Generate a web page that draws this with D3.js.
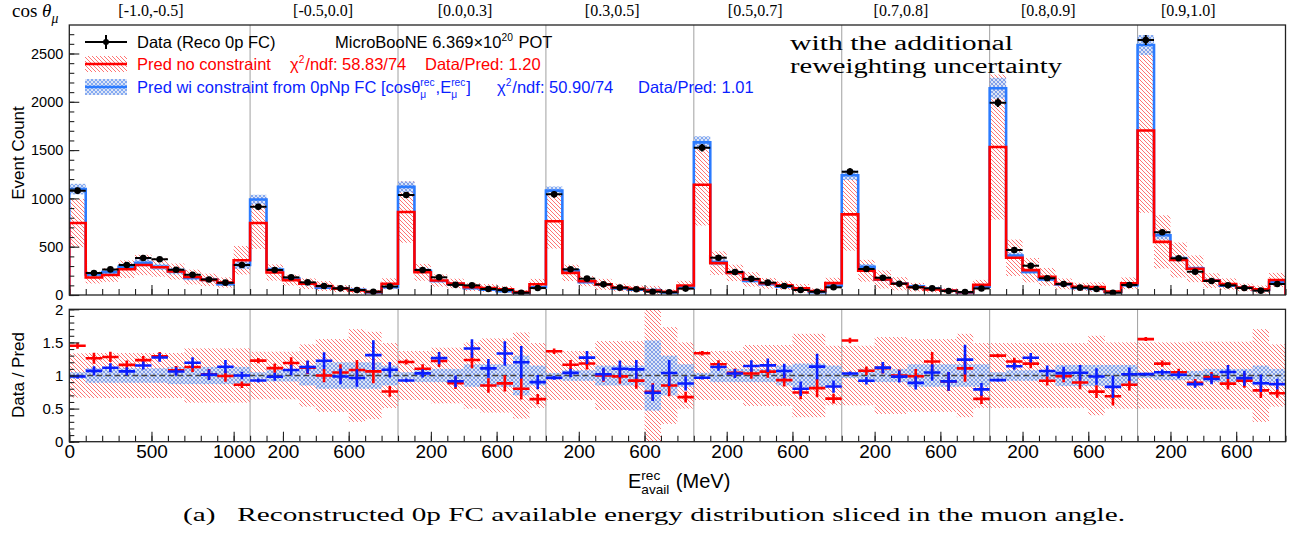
<!DOCTYPE html>
<html>
<head>
<meta charset="utf-8">
<script src="https://cdn.jsdelivr.net/npm/d3@7"></script>
<style>
  body { margin: 0; background: #fff; }
  svg { display: block; }
  text { white-space: pre; }
</style>
</head>
<body>
<svg id="chart" width="1298" height="535"></svg>
<script>
// ---- cos(theta_mu) slices ----
const sliceLabels = ["[-1.0,-0.5]", "[-0.5,0.0]", "[0.0,0.3]", "[0.3,0.5]",
                     "[0.5,0.7]", "[0.7,0.8]", "[0.8,0.9]", "[0.9,1.0]"];
const sliceBins = [11, 9, 9, 9, 9, 9, 9, 9];
const binWidthMeV = 100;
const sliceTickLabels = [[0, 500, 1000], [200, 600], [200, 600], [200, 600],
                         [200, 600], [200, 600], [200, 600], [200, 600]];
const countTicks = [0, 500, 1000, 1500, 2000, 2500];
const ratioTicks = [0, 0.5, 1, 1.5, 2];

// ---- per-bin contents (74 bins, slice by slice) ----
const dataCounts = [
  1080, 228, 265, 310, 383, 370, 262, 210, 160, 128, 310,
  914, 259, 183, 131, 93, 69, 52, 34, 88,
  1035, 259, 183, 105, 100, 62, 52, 24, 72,
  1042, 266, 169, 110, 76, 59, 34, 28, 66,
  1525, 386, 238, 167, 128, 93, 52, 34, 80,
  1277, 269, 179, 117, 80, 69, 41, 31, 68,
  1991, 466, 303, 173, 114, 76, 62, 24, 104,
  2640, 649, 380, 241, 145, 100, 72, 45, 114];

const dataStatErr = [
  33, 15, 16, 18, 20, 19, 16, 14.5, 12.6, 11.3, 17.6,
  30, 16, 13.5, 11.4, 9.6, 8.3, 7.2, 5.8, 9.4,
  32, 16, 13.5, 10.2, 10, 7.9, 7.2, 4.9, 8.5,
  32, 16.3, 13, 10.5, 8.7, 7.7, 5.8, 5.3, 8.1,
  39, 19.6, 15.4, 12.9, 11.3, 9.6, 7.2, 5.8, 8.9,
  35.7, 16.4, 13.4, 10.8, 8.9, 8.3, 6.4, 5.6, 8.2,
  44.6, 21.6, 17.4, 13.2, 10.7, 8.7, 7.9, 4.9, 10.2,
  51.4, 25.5, 19.5, 15.5, 12, 10, 8.5, 6.7, 10.7];

const predNoConstraint = [
  745, 181, 207, 267, 311, 287, 243, 186, 157, 129, 360,
  746, 233, 154, 117, 93, 66, 48, 32, 116,
  859, 235, 150, 119, 81, 73, 59, 30, 112,
  763, 229, 143, 110, 77, 64, 45, 33, 98,
  1142, 330, 229, 162, 121, 100, 70, 42, 123,
  835, 251, 161, 117, 81, 57, 45, 28, 105,
  1532, 385, 257, 188, 115, 85, 82, 35, 121,
  1703, 550, 362, 271, 149, 114, 78, 58, 156];

const predConstraint = [
  1096, 213, 237, 292, 333, 291, 247, 176, 158, 113, 310,
  988, 264, 169, 116, 76, 70, 54, 26, 81,
  1119, 251, 145, 115, 71, 56, 39, 20, 80,
  1080, 256, 133, 108, 69, 54, 46, 27, 75,
  1580, 342, 231, 146, 111, 87, 65, 30, 96,
  1240, 292, 160, 119, 90, 66, 45, 25, 86,
  2141, 409, 239, 162, 110, 73, 63, 29, 102,
  2588, 618, 376, 277, 153, 95, 75, 51, 131];

// relative (fractional) uncertainty of each prediction
const relErrNoConstraint = [
  0.335, 0.34, 0.34, 0.34, 0.34, 0.34, 0.34, 0.41, 0.41, 0.41, 0.41,
  0.36, 0.36, 0.36, 0.47, 0.55, 0.55, 0.70, 0.66, 0.49,
  0.37, 0.37, 0.42, 0.42, 0.50, 0.56, 0.56, 0.65, 0.49,
  0.37, 0.37, 0.37, 0.52, 0.52, 0.52, 1.10, 0.73, 0.50,
  0.37, 0.37, 0.37, 0.46, 0.46, 0.46, 0.63, 0.63, 0.45,
  0.45, 0.45, 0.58, 0.58, 0.55, 0.55, 0.55, 0.63, 0.49,
  0.49, 0.49, 0.49, 0.49, 0.49, 0.49, 0.60, 0.50, 0.50,
  0.50, 0.50, 0.50, 0.51, 0.51, 0.51, 0.51, 0.70, 0.47];

const relErrConstraint = [
  0.05, 0.11, 0.11, 0.11, 0.11, 0.11, 0.13, 0.13, 0.13, 0.13, 0.13,
  0.05, 0.09, 0.09, 0.15, 0.20, 0.20, 0.20, 0.20, 0.15,
  0.05, 0.10, 0.10, 0.10, 0.17, 0.17, 0.17, 0.30, 0.15,
  0.04, 0.08, 0.08, 0.15, 0.15, 0.15, 0.53, 0.30, 0.17,
  0.04, 0.10, 0.10, 0.10, 0.10, 0.15, 0.18, 0.18, 0.15,
  0.04, 0.10, 0.10, 0.10, 0.17, 0.17, 0.17, 0.17, 0.17,
  0.05, 0.08, 0.08, 0.08, 0.16, 0.16, 0.16, 0.16, 0.16,
  0.04, 0.07, 0.07, 0.07, 0.10, 0.10, 0.10, 0.15, 0.10];

// ---- layout ----
const W = 1298, H = 535;
const frame = { left: 69.3, right: 1285.5 };
const topPanel = { top: 25, bottom: 295, yMax: 2795 };
const ratioPanel = { top: 309.3, bottom: 441.7 };
// where the slice titles sit along the concatenated energy axis (MeV)
const sliceLabelAnchor = [497, 1544, 2408, 3303, 4173, 5060, 5957, 6809];

const SANS = "'Liberation Sans', Arial, Helvetica, sans-serif";
const SERIF = "'Liberation Serif', 'Times New Roman', serif";
const RED = "#ff0000";
const BLUE_LINE = "#2b7bff";
const BLUE = "#0a1eff";
const NBSP = "\u00a0";

// ---- bin geometry on the concatenated axis ----
const sliceStart = [];
const bins = [];
{
  let off = 0;
  sliceBins.forEach((n, s) => {
    sliceStart.push(off);
    for (let k = 0; k < n; k++) {
      bins.push({ slice: s, lo: off + k * binWidthMeV, hi: off + (k + 1) * binWidthMeV });
    }
    off += n * binWidthMeV;
  });
  sliceStart.push(off);
}
const totalMeV = sliceStart[sliceStart.length - 1];
bins.forEach((b, i) => {
  b.data = dataCounts[i];
  b.err = dataStatErr[i];
  b.p0 = predNoConstraint[i];
  b.p1 = predConstraint[i];
  b.e0 = relErrNoConstraint[i];
  b.e1 = relErrConstraint[i];
});

const x = d3.scaleLinear().domain([0, totalMeV]).range([frame.left, frame.right]);
const yTop = d3.scaleLinear().domain([0, topPanel.yMax]).range([topPanel.bottom, topPanel.top]);
const yRat = d3.scaleLinear().domain([0, 2]).range([ratioPanel.bottom, ratioPanel.top]);

const svg = d3.select("#chart");
svg.append("rect").attr("width", W).attr("height", H).attr("fill", "#fff");

// ---- hatch patterns ----
const defs = svg.append("defs");
const redHatch = defs.append("pattern").attr("id", "redHatch")
  .attr("patternUnits", "userSpaceOnUse").attr("width", 4).attr("height", 4);
redHatch.append("path").attr("d", "M-1,-1 L5,5 M-1,3 L1,5 M3,-1 L5,1")
  .attr("stroke", "#ff7474").attr("stroke-width", 1);
const blueHatch = defs.append("pattern").attr("id", "blueHatch")
  .attr("patternUnits", "userSpaceOnUse").attr("width", 4).attr("height", 4);
blueHatch.append("rect").attr("width", 4).attr("height", 4).attr("fill", "rgba(140,170,230,0.30)");
blueHatch.append("path").attr("d", "M-1,-1 L5,5 M-1,3 L1,5 M3,-1 L5,1 M-1,5 L5,-1 M-1,1 L1,-1 M3,5 L5,3")
  .attr("stroke", "#6f9cf0").attr("stroke-width", 0.8);

defs.append("clipPath").attr("id", "clipTop").append("rect")
  .attr("x", frame.left).attr("y", topPanel.top)
  .attr("width", frame.right - frame.left).attr("height", topPanel.bottom - topPanel.top);
defs.append("clipPath").attr("id", "clipRatio").append("rect")
  .attr("x", frame.left).attr("y", ratioPanel.top)
  .attr("width", frame.right - frame.left).attr("height", ratioPanel.bottom - ratioPanel.top);

// ---- slice separators ----
function separators(panel) {
  svg.append("g").selectAll("line").data(sliceStart.slice(1, -1)).join("line")
    .attr("x1", d => x(d)).attr("x2", d => x(d))
    .attr("y1", panel.top).attr("y2", panel.bottom)
    .attr("stroke", "#a0a0a0").attr("stroke-width", 1);
}
separators(topPanel);
separators(ratioPanel);

// ================= upper panel =================
const gTop = svg.append("g").attr("clip-path", "url(#clipTop)");
const clampTop = v => Math.max(0, Math.min(topPanel.yMax, v));

// uncertainty bands
gTop.append("g").selectAll("rect").data(bins).join("rect")
  .attr("x", d => x(d.lo)).attr("width", d => x(d.hi) - x(d.lo))
  .attr("y", d => yTop(clampTop(d.p0 * (1 + d.e0))))
  .attr("height", d => yTop(clampTop(d.p0 * (1 - d.e0))) - yTop(clampTop(d.p0 * (1 + d.e0))))
  .attr("fill", "url(#redHatch)");
gTop.append("g").selectAll("rect").data(bins).join("rect")
  .attr("x", d => x(d.lo)).attr("width", d => x(d.hi) - x(d.lo))
  .attr("y", d => yTop(clampTop(d.p1 * (1 + d.e1))))
  .attr("height", d => yTop(clampTop(d.p1 * (1 - d.e1))) - yTop(clampTop(d.p1 * (1 + d.e1))))
  .attr("fill", "url(#blueHatch)");

// step histograms
function stepPath(key) {
  let p = `M${x(0)},${yTop(0)}`;
  bins.forEach(b => { p += `V${yTop(b[key])}H${x(b.hi)}`; });
  p += `V${yTop(0)}`;
  return p;
}
gTop.append("path").attr("d", stepPath("p1")).attr("fill", "none")
  .attr("stroke", BLUE_LINE).attr("stroke-width", 2.6);
gTop.append("path").attr("d", stepPath("p0")).attr("fill", "none")
  .attr("stroke", RED).attr("stroke-width", 2.6);

// data points
const gData = gTop.append("g").attr("stroke", "#000").attr("stroke-width", 2);
gData.selectAll("line.h").data(bins).join("line").attr("class", "h")
  .attr("x1", d => x(d.lo)).attr("x2", d => x(d.hi))
  .attr("y1", d => yTop(d.data)).attr("y2", d => yTop(d.data));
gData.selectAll("line.v").data(bins).join("line").attr("class", "v")
  .attr("x1", d => x((d.lo + d.hi) / 2)).attr("x2", d => x((d.lo + d.hi) / 2))
  .attr("y1", d => yTop(d.data - d.err)).attr("y2", d => yTop(d.data + d.err));
gData.selectAll("circle").data(bins).join("circle")
  .attr("cx", d => x((d.lo + d.hi) / 2)).attr("cy", d => yTop(d.data))
  .attr("r", 3.3).attr("fill", "#000").attr("stroke", "none");

// ================= ratio panel =================
const gRat = svg.append("g").attr("clip-path", "url(#clipRatio)");
gRat.append("g").selectAll("rect").data(bins).join("rect")
  .attr("x", d => x(d.lo)).attr("width", d => x(d.hi) - x(d.lo))
  .attr("y", d => yRat(1 + d.e0)).attr("height", d => yRat(1 - d.e0) - yRat(1 + d.e0))
  .attr("fill", "url(#redHatch)");
gRat.append("g").selectAll("rect").data(bins).join("rect")
  .attr("x", d => x(d.lo)).attr("width", d => x(d.hi) - x(d.lo))
  .attr("y", d => yRat(1 + d.e1)).attr("height", d => yRat(1 - d.e1) - yRat(1 + d.e1))
  .attr("fill", "url(#blueHatch)");
gRat.append("line")
  .attr("x1", frame.left).attr("x2", frame.right).attr("y1", yRat(1)).attr("y2", yRat(1))
  .attr("stroke", "#444").attr("stroke-width", 1.4).attr("stroke-dasharray", "6,3");

function ratioCrosses(predKey, color) {
  const g = gRat.append("g").attr("stroke", color).attr("stroke-width", 2.6);
  const r = d => d.data / d[predKey];
  const re = d => d.err / d[predKey];
  g.selectAll("line.h").data(bins).join("line").attr("class", "h")
    .attr("x1", d => x(d.lo)).attr("x2", d => x(d.hi))
    .attr("y1", d => yRat(r(d))).attr("y2", d => yRat(r(d)));
  g.selectAll("line.v").data(bins).join("line").attr("class", "v")
    .attr("x1", d => x((d.lo + d.hi) / 2)).attr("x2", d => x((d.lo + d.hi) / 2))
    .attr("y1", d => yRat(r(d) - re(d))).attr("y2", d => yRat(r(d) + re(d)));
}
ratioCrosses("p0", RED);
ratioCrosses("p1", BLUE);

// ================= frames & axes =================
function frameRect(panel) {
  svg.append("rect").attr("x", frame.left).attr("y", panel.top)
    .attr("width", frame.right - frame.left).attr("height", panel.bottom - panel.top)
    .attr("fill", "none").attr("stroke", "#222").attr("stroke-width", 1.3);
}
frameRect(topPanel);
frameRect(ratioPanel);

// energy ticks: every bin edge (minor) and the labelled energies (major)
const minorE = d3.range(0, totalMeV + 1, binWidthMeV);
const majorE = [];
const majorLabel = new Map();
sliceTickLabels.forEach((labs, s) => labs.forEach(v => {
  majorE.push(sliceStart[s] + v);
  majorLabel.set(sliceStart[s] + v, String(v));
}));

function styleAxis(g) {
  g.select(".domain").remove();
  g.selectAll("line").attr("stroke", "#222").attr("stroke-width", 1.1);
  g.selectAll("text").attr("font-family", SANS).attr("fill", "#000");
}

function energyAxis(panel, withLabels) {
  svg.append("g").attr("transform", `translate(0,${panel.bottom})`)
    .call(d3.axisBottom(x).tickValues(minorE).tickSize(-6).tickFormat(""))
    .call(styleAxis);
  const g = svg.append("g").attr("transform", `translate(0,${panel.bottom})`)
    .call(d3.axisBottom(x).tickValues(majorE).tickSize(-10).tickPadding(3)
      .tickFormat(d => withLabels ? majorLabel.get(d) : ""))
    .call(styleAxis);
  g.selectAll("text").attr("font-size", 19);
}
energyAxis(topPanel, false);
energyAxis(ratioPanel, true);

// counts axis
svg.append("g").attr("transform", `translate(${frame.left},0)`)
  .call(d3.axisLeft(yTop).tickValues(d3.range(0, topPanel.yMax, 100)).tickSize(-5).tickFormat(""))
  .call(styleAxis);
svg.append("g").attr("transform", `translate(${frame.left},0)`)
  .call(d3.axisLeft(yTop).tickValues(countTicks).tickSize(-10).tickPadding(6).tickFormat(d3.format("d")))
  .call(styleAxis)
  .selectAll("text").attr("font-size", 14.5);

// ratio axis
svg.append("g").attr("transform", `translate(${frame.left},0)`)
  .call(d3.axisLeft(yRat).tickValues(d3.range(0, 2.001, 0.1)).tickSize(-5).tickFormat(""))
  .call(styleAxis);
svg.append("g").attr("transform", `translate(${frame.left},0)`)
  .call(d3.axisLeft(yRat).tickValues(ratioTicks).tickSize(-10).tickPadding(6).tickFormat(d => String(d)))
  .call(styleAxis)
  .selectAll("text").attr("font-size", 15);

// ---- rich text helper (sub/superscripts, stacked when both given) ----
function richText(g, x0, y0, parts, size, color, family) {
  let cx = x0;
  for (const p of parts) {
    if (p.t !== undefined) {
      const t = g.append("text").attr("x", cx).attr("y", y0)
        .attr("font-size", size).attr("font-family", family).attr("fill", color)
        .attr("font-style", p.italic ? "italic" : null).text(p.t);
      cx += t.node().getComputedTextLength();
    } else {
      let w = 0;
      const ss = size * (p.scale || 0.62);
      if (p.sup) {
        const t = g.append("text").attr("x", cx).attr("y", y0 - size * 0.42)
          .attr("font-size", ss).attr("font-family", family).attr("fill", color).text(p.sup);
        w = Math.max(w, t.node().getComputedTextLength());
      }
      if (p.sub) {
        const t = g.append("text").attr("x", cx).attr("y", y0 + size * (p.subDrop || 0.28))
          .attr("font-size", ss).attr("font-family", family).attr("fill", color)
          .attr("font-style", p.subItalic ? "italic" : null).text(p.sub);
        w = Math.max(w, t.node().getComputedTextLength());
      }
      cx += w + 1;
    }
  }
  return cx;
}

// ---- titles ----
const gText = svg.append("g");
gText.append("text")
  .attr("transform", `translate(24,153) rotate(-90)`)
  .attr("text-anchor", "middle").attr("font-family", SANS).attr("font-size", 17)
  .text("Event Count");
gText.append("text")
  .attr("transform", `translate(24,375) rotate(-90)`)
  .attr("text-anchor", "middle").attr("font-family", SANS).attr("font-size", 17)
  .text("Data / Pred");

richText(gText, 628, 488,
  [{ t: "E" }, { sup: "rec", sub: "avail", scale: 0.68, subDrop: 0.3 }, { t: NBSP + "(MeV)" }],
  20, "#000", SANS);

// angle slice titles
richText(gText, 12, 17,
  [{ t: "cos" + NBSP }, { t: "θ", italic: true }, { sub: "μ", subItalic: true, scale: 0.72, subDrop: 0.3 }],
  19, "#000", SERIF);
gText.selectAll("text.slice").data(sliceLabels).join("text").attr("class", "slice")
  .attr("x", (d, i) => x(sliceLabelAnchor[i])).attr("y", 16)
  .attr("text-anchor", "middle").attr("font-family", SERIF).attr("font-size", 16)
  .text(d => d);

// caption
gText.append("text").attr("x", 654).attr("y", 521).attr("text-anchor", "middle")
  .attr("font-family", SERIF).attr("font-size", 19)
  .attr("textLength", 942).attr("lengthAdjust", "spacingAndGlyphs")
  .text("(a)" + NBSP + NBSP + NBSP + "Reconstructed 0p FC available energy distribution sliced in the muon angle.");

// note in the upper panel
gText.append("text").attr("x", 790).attr("y", 50).attr("font-family", SERIF).attr("font-size", 20)
  .attr("textLength", 223).attr("lengthAdjust", "spacingAndGlyphs").text("with the additional");
gText.append("text").attr("x", 790).attr("y", 73).attr("font-family", SERIF).attr("font-size", 20)
  .attr("textLength", 272).attr("lengthAdjust", "spacingAndGlyphs").text("reweighting uncertainty");

// ---- legend ----
const gLeg = svg.append("g");
const legX0 = 85, legX1 = 127, legTextX = 137;
const rows = [42, 64, 87];
// data
gLeg.append("line").attr("x1", legX0).attr("x2", legX1).attr("y1", rows[0]).attr("y2", rows[0])
  .attr("stroke", "#000").attr("stroke-width", 2);
gLeg.append("line").attr("x1", (legX0 + legX1) / 2).attr("x2", (legX0 + legX1) / 2)
  .attr("y1", rows[0] - 7).attr("y2", rows[0] + 7).attr("stroke", "#000").attr("stroke-width", 2);
gLeg.append("circle").attr("cx", (legX0 + legX1) / 2).attr("cy", rows[0]).attr("r", 3).attr("fill", "#000");
// no constraint
gLeg.append("rect").attr("x", legX0).attr("y", rows[1] - 8).attr("width", legX1 - legX0).attr("height", 16)
  .attr("fill", "url(#redHatch)");
gLeg.append("line").attr("x1", legX0).attr("x2", legX1).attr("y1", rows[1]).attr("y2", rows[1])
  .attr("stroke", RED).attr("stroke-width", 2.6);
// with constraint
gLeg.append("rect").attr("x", legX0).attr("y", rows[2] - 8).attr("width", legX1 - legX0).attr("height", 16)
  .attr("fill", "url(#blueHatch)");
gLeg.append("line").attr("x1", legX0).attr("x2", legX1).attr("y1", rows[2]).attr("y2", rows[2])
  .attr("stroke", BLUE_LINE).attr("stroke-width", 2.6);

const LS = 16.5;
richText(gLeg, legTextX, rows[0] + 6, [{ t: "Data (Reco 0p FC)" }], LS, "#000", SANS);
richText(gLeg, 335, rows[0] + 6,
  [{ t: "MicroBooNE 6.369×10" }, { sup: "20" }, { t: NBSP + "POT" }], LS, "#000", SANS);

richText(gLeg, legTextX, rows[1] + 6, [{ t: "Pred no constraint" }], LS, RED, SANS);
richText(gLeg, 290, rows[1] + 6, [{ t: "χ" }, { sup: "2" }, { t: "/ndf: 58.83/74" }], LS, RED, SANS);
richText(gLeg, 425, rows[1] + 6, [{ t: "Data/Pred: 1.20" }], LS, RED, SANS);

richText(gLeg, legTextX, rows[2] + 6,
  [{ t: "Pred wi constraint from 0pNp FC [cosθ" }, { sup: "rec", sub: "μ" }, { t: ",E" }, { sup: "rec", sub: "μ" }, { t: "]" }],
  LS, BLUE, SANS);
richText(gLeg, 497, rows[2] + 6, [{ t: "χ" }, { sup: "2" }, { t: "/ndf: 50.90/74" }], LS, BLUE, SANS);
richText(gLeg, 638, rows[2] + 6, [{ t: "Data/Pred: 1.01" }], LS, BLUE, SANS);
</script>
</body>
</html>
